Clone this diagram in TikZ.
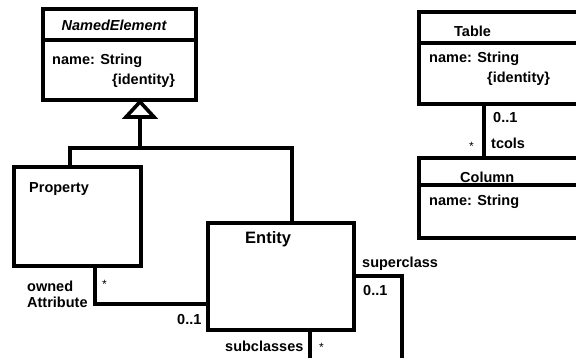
\documentclass[tikz,border=0pt]{standalone}
\usepackage{fontspec}
\setmainfont{Liberation Sans}
\begin{document}
\begin{tikzpicture}[x=1pt,y=-1pt,
  box/.style={draw=black,line width=3.6pt,fill=white,rectangle,inner sep=0pt},
  conn/.style={draw=black,line width=3.6pt,line cap=rect},
  lbl/.style={inner sep=0pt,anchor=base west,font=\fontsize{14.5}{17}\bfseries\selectfont},
  star/.style={inner sep=0pt,anchor=base west,font=\fontsize{12}{14}\selectfont}]
\useasboundingbox (0,0) rectangle (576,358);
\clip (0,0) rectangle (576,358);
% boxes
\node[box,minimum width=153pt,minimum height=91pt] (ne) at (119.5,54.5) {};
\draw[line width=3.6pt] (ne.west |- 0,40) -- (ne.east |- 0,40);
\node[box,minimum width=127pt,minimum height=99pt] (prop) at (77.5,216.5) {};
\node[box,minimum width=146pt,minimum height=107pt] (ent) at (281,276.5) {};
\node[box,minimum width=200pt,minimum height=92pt] (tab) at (519,58) {};
\draw[line width=3.6pt] (tab.west |- 0,43) -- (tab.east |- 0,43);
\node[box,minimum width=200pt,minimum height=80pt] (col) at (519,198) {};
\draw[line width=3.6pt] (col.west |- 0,185) -- (col.east |- 0,185);
% generalization
\coordinate (gapex) at (ne.south -| 140,0);
\coordinate (gbase) at (140,117);
\coordinate (gjoin) at (140,148);
\draw[conn] (gbase) -- (gjoin);
\draw[conn] (70,148) -- (292,148);
\draw[conn] (70,148) -- (prop.north -| 70,0);
\draw[conn] (292,148) -- (ent.north -| 292,0);
\draw[line width=3.6pt,fill=white,line join=miter] (gapex) -- (154,117) -- (126,117) -- cycle;
% property-entity association
\coordinate (pa) at (prop.south -| 95,0);
\coordinate (pb) at (95,304);
\draw[line width=3.6pt] (pa) -- (pb) -- (ent.west |- pb);
% self association
\coordinate (sa) at (ent.east |- 0,276);
\coordinate (sb) at (402,276);
\coordinate (sc) at (402,370);
\coordinate (sd) at (ent.south -| 310,0);
\coordinate (se) at (310,370);
\draw[line width=3.6pt] (sa) -- (sb) -- (sc);
\draw[line width=3.6pt] (sd) -- (se);
% table-column
\draw[line width=3.6pt] (tab.south -| 484,0) -- (col.north -| 484,0);
% texts
\node[lbl,anchor=base,font=\fontsize{14.5}{17}\bfseries\itshape\selectfont] (t1) at (114,31) {NamedElement};
\node[lbl] (t2) at (52,65) {name: String};
\node[lbl] (t3) at (112,85) {\{identity\}};
\node[lbl] (t4) at (29,193) {Property};
\node[lbl] (t5) at (27,291) {owned};
\node[lbl] (t6) at (27,308) {Attribute};
\node[star] (t7) at (102,288) {*};
\node[lbl] (t8) at (177,324) {0..1};
\node[lbl,font=\fontsize{16.5}{19}\bfseries\selectfont] (t9) at (245,244) {Entity};
\node[lbl] (t10) at (362,268) {superclass};
\node[lbl] (t11) at (363,296) {0..1};
\node[lbl] (t12) at (225,352) {subclasses};
\node[star] (t13) at (319,352) {*};
\node[lbl] (t14) at (454,37) {Table};
\node[lbl] (t15) at (429,63) {name: String};
\node[lbl] (t16) at (487,83) {\{identity\}};
\node[lbl] (t17) at (493,123) {0..1};
\node[star] (t18) at (469,151) {*};
\node[lbl] (t19) at (491,149) {tcols};
\node[lbl] (t20) at (460,183) {Column};
\node[lbl] (t21) at (429,206) {name: String};
\end{tikzpicture}
\end{document}
